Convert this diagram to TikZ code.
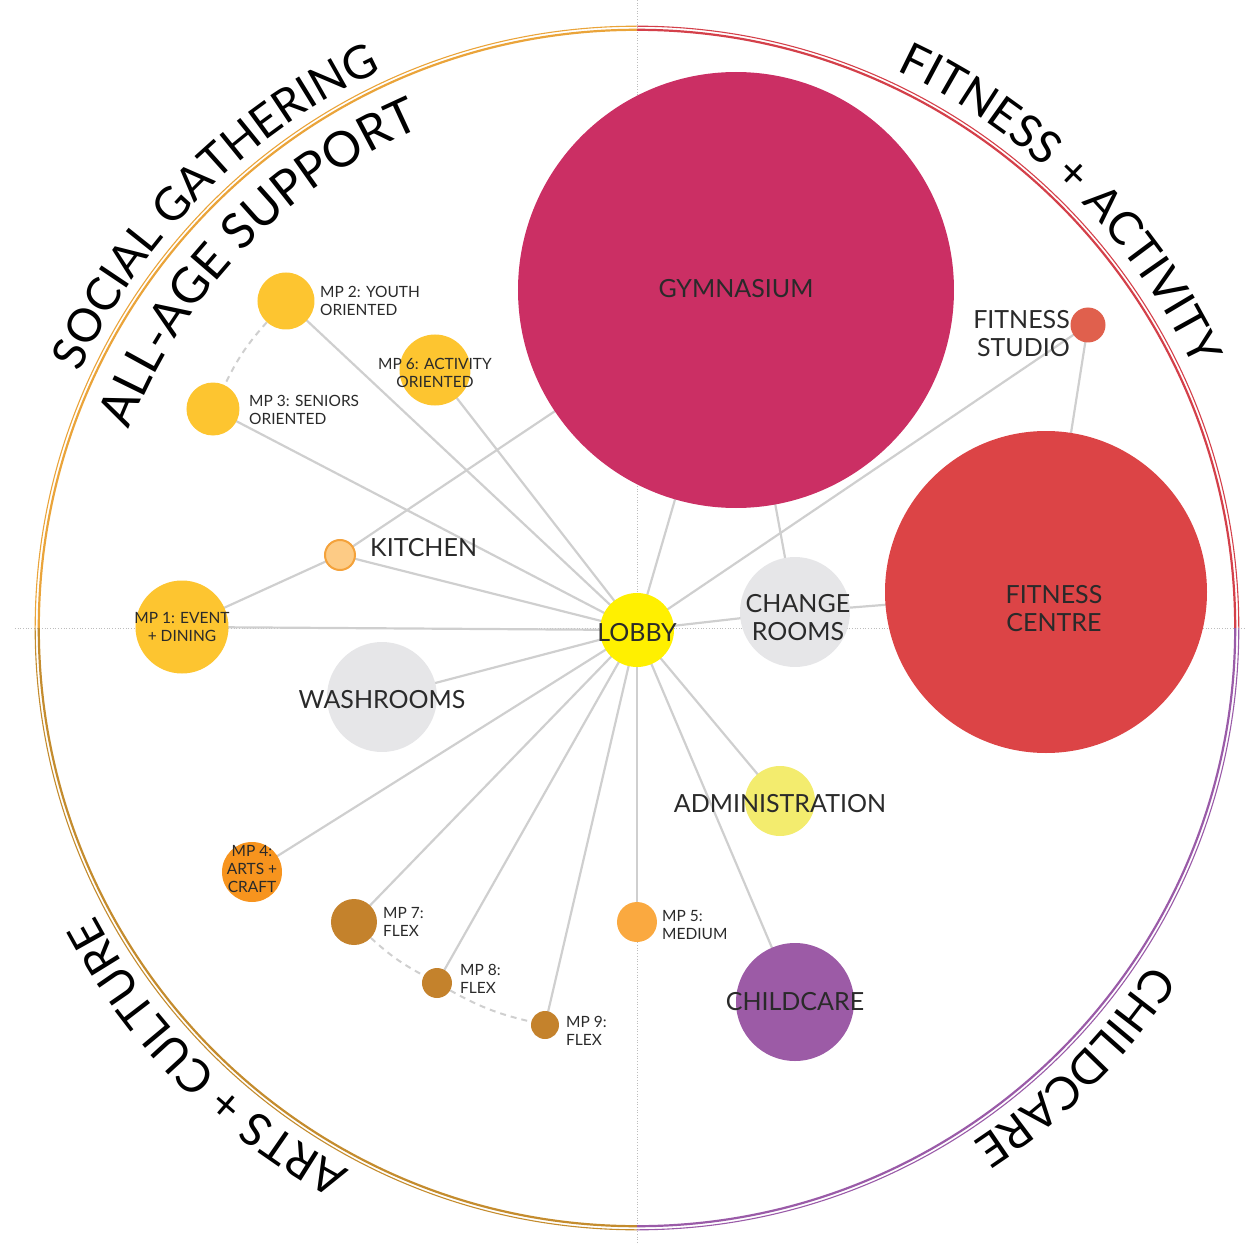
\documentclass[tikz,border=0pt]{standalone}
\usepackage{fontspec}
\setmainfont{Lato}
\usetikzlibrary{decorations.text,backgrounds}
\definecolor{cGym}{HTML}{CB2F64}
\definecolor{cFC}{HTML}{DC4446}
\definecolor{cStudio}{HTML}{E0604D}
\definecolor{cGray}{HTML}{E6E6E8}
\definecolor{cLobby}{HTML}{FFF000}
\definecolor{cAdmin}{HTML}{F3EC6E}
\definecolor{cChild}{HTML}{9C5BA6}
\definecolor{cMPfive}{HTML}{FAA940}
\definecolor{cFlex}{HTML}{C4822C}
\definecolor{cArts}{HTML}{F7941E}
\definecolor{cMP}{HTML}{FDC530}
\definecolor{cKitFill}{HTML}{FDCB85}
\definecolor{cKitDraw}{HTML}{F4A23B}
\definecolor{cLink}{HTML}{CFCFCF}
\definecolor{cGuide}{HTML}{BDBDBD}
\definecolor{cTxt}{HTML}{2A2A2A}
\definecolor{cTL}{HTML}{EAA43A}
\definecolor{cTR}{HTML}{D4404A}
\definecolor{cBR}{HTML}{9A5BA8}
\definecolor{cBL}{HTML}{C48C2E}
\newcommand\quadfont{\fontsize{46}{46}\selectfont}
\newcommand\quadfontb{\fontsize{49}{49}\selectfont}
\begin{document}
\begin{tikzpicture}[x=1pt,y=1pt,
  room/.style={circle, inner sep=0pt, minimum size=#1, draw=none},
  link/.style={draw=cLink, line width=2.2pt},
  dlink/.style={draw=cLink, line width=2pt, dash pattern=on 6pt off 5pt},
  bigtxt/.style={font=\fontsize{25}{28}\selectfont, text=cTxt, align=center, inner sep=0pt},
  smalltxt/.style={font=\fontsize{15.5}{18}\selectfont, text=cTxt, align=left, inner sep=0pt},
  ringout/.style={draw=#1, line width=1.1pt},
  ringin/.style={draw=#1, line width=2.2pt},
  guide/.style={draw=cGuide, line width=0.7pt, dotted},
  quadtxt/.style={decorate, decoration={text along path, text align=center, text={#1}}},
]
\useasboundingbox (-637,-615) rectangle (611,628);

% outer ring (two concentric strokes per quadrant)
\foreach \c/\a in {cTR/0, cTL/90, cBL/180, cBR/270}{
  \draw[ringout=\c] (\a:601.8) arc[start angle=\a, end angle=\a+90, radius=601.8];
  \draw[ringin=\c] (\a:598.2) arc[start angle=\a, end angle=\a+90, radius=598.2];
}

% quadrant titles
\path[quadtxt={|\quadfont|SOCIAL GATHERING}] (165:613) arc[start angle=165, end angle=105, radius=613];
\path[quadtxt={|\quadfontb|ALL-AGE SUPPORT}] (166:545) arc[start angle=166, end angle=106, radius=545];
\path[quadtxt={|\quadfont|FITNESS + ACTIVITY}] (75:615) arc[start angle=75, end angle=15, radius=615];
\path[quadtxt={|\quadfont|CHILDCARE}] (-15:614) arc[start angle=-15, end angle=-75, radius=614];
\path[quadtxt={|\quadfont|ARTS + CULTURE}] (-105:614) arc[start angle=-105, end angle=-165, radius=614];

% rooms
\node[room=436pt, fill=cGym] (gym) at (99,338) {};
\node[room=322pt, fill=cFC] (fc) at (409,36) {};
\node[room=35pt, fill=cStudio] (studio) at (451,303) {};
\node[room=110pt, fill=cGray] (change) at (158,16) {};
\node[room=74pt, fill=cLobby] (lobby) at (0,-2) {};
\node[room=70pt, fill=cAdmin] (admin) at (143,-173) {};
\node[room=118pt, fill=cChild] (child) at (158,-374) {};
\node[room=40pt, fill=cMPfive] (mp5) at (0,-294) {};
\node[room=28pt, fill=cFlex] (mp9) at (-92,-397) {};
\node[room=30pt, fill=cFlex] (mp8) at (-200,-355) {};
\node[room=46pt, fill=cFlex] (mp7) at (-283,-294) {};
\node[room=60pt, fill=cArts] (mp4) at (-385,-244) {};
\node[room=110pt, fill=cGray] (wash) at (-255,-69) {};
\node[room=93pt, fill=cMP] (mp1) at (-455,1) {};
\node[room=30pt, fill=cKitFill, draw=cKitDraw, line width=2pt] (kitchen) at (-297,73) {};
\node[room=53pt, fill=cMP] (mp3) at (-424,219) {};
\node[room=57pt, fill=cMP] (mp2) at (-351,327) {};
\node[room=71pt, fill=cMP] (mp6) at (-202,258) {};

% labels
\node[bigtxt] (tgym) at (99,339) {GYMNASIUM};
\node[bigtxt] (tfc) at (417,19) {FITNESS\\CENTRE};
\node[bigtxt, anchor=east, align=right] (tstudio) at (433,294) {FITNESS\\STUDIO};
\node[bigtxt] (tchange) at (161,10) {CHANGE\\ROOMS};
\node[bigtxt] (tlobby) at (0,-5) {LOBBY};
\node[bigtxt] (tadmin) at (143,-176) {ADMINISTRATION};
\node[bigtxt] (tchild) at (158,-374) {CHILDCARE};
\node[bigtxt] (twash) at (-255,-72) {WASHROOMS};
\node[bigtxt, anchor=west] (tkitchen) at (-267,80) {KITCHEN};
\node[smalltxt, align=center] (tmp1) at (-455,1) {MP 1: EVENT\\+ DINING};
\node[smalltxt, anchor=west] (tmp2) at (-317,327) {MP 2: YOUTH\\ORIENTED};
\node[smalltxt, anchor=west] (tmp3) at (-388,218) {MP 3: SENIORS\\ORIENTED};
\node[smalltxt, align=center] (tmp6) at (-202,255) {MP 6: ACTIVITY\\ORIENTED};
\node[smalltxt, align=center] (tmp4) at (-385,-241) {MP 4:\\ARTS +\\CRAFT};
\node[smalltxt, anchor=west] (tmp5) at (25,-297) {MP 5:\\MEDIUM};
\node[smalltxt, anchor=west] (tmp7) at (-254,-294) {MP 7:\\FLEX};
\node[smalltxt, anchor=west] (tmp8) at (-177,-351) {MP 8:\\FLEX};
\node[smalltxt, anchor=west] (tmp9) at (-71,-403) {MP 9:\\FLEX};

\begin{pgfonlayer}{background}
\draw[guide] (-622,0) -- (608,0);
\draw[guide] (0,628) -- (0,-615);
\foreach \t in {mp2,mp3,mp6,kitchen,mp1,wash,mp4,mp7,mp8,mp9,mp5,child,admin,change,gym,studio}
  \draw[link] (lobby.center) -- (\t.center);
\draw[link] (kitchen.center) -- (gym.center);
\draw[link] (kitchen.center) -- (mp1.center);
\draw[link] (change.center) -- (gym.center);
\draw[link] (change.center) -- (fc.center);
\draw[link] (studio.center) -- (fc.center);
\draw[dlink] (mp2) to[bend right=8] (mp3);
\draw[dlink] (mp7) to[bend right=7] (mp8);
\draw[dlink] (mp8) to[bend right=8] (mp9);
\end{pgfonlayer}
\end{tikzpicture}
\end{document}
